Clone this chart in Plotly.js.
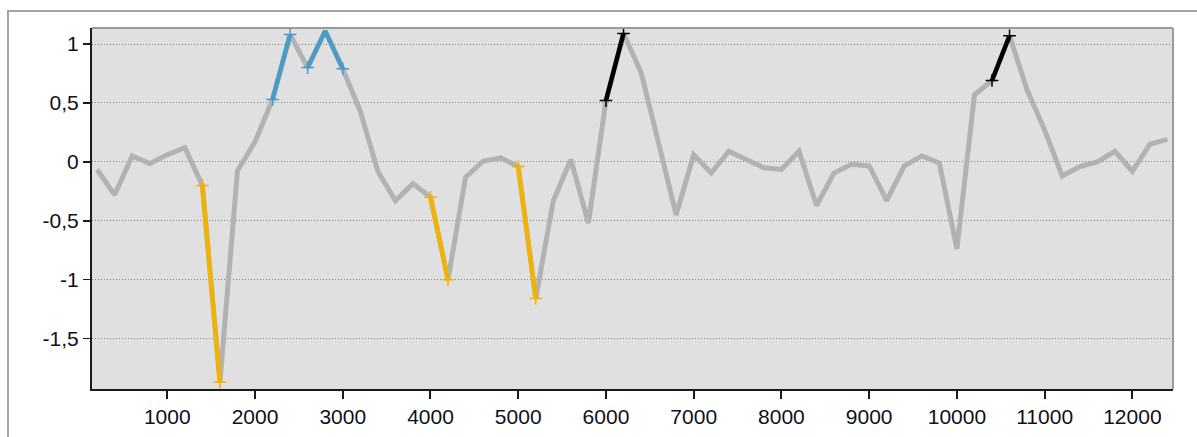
<!DOCTYPE html>
<html>
<head>
<meta charset="utf-8">
<script src="https://cdn.plot.ly/plotly-3.0.1.min.js"></script>
<style>
  html, body { margin: 0; padding: 0; background: #ffffff; }
  #frame { position: absolute; left: 7px; top: 10px; width: 1190px; height: 427px;
           border-top: 2px solid #a6a6a6; border-left: 2px solid #a6a6a6; box-sizing: border-box; z-index: 0; }
  #chart { position: absolute; left: 0; top: 0; width: 1197px; height: 437px; z-index: 1; }
</style>
</head>
<body>
<div id="frame"></div>
<div id="chart"></div>
<script>
// ---- data ----
const xValues = [200, 400, 600, 800, 1000, 1200, 1400, 1600, 1800, 2000,
  2200, 2400, 2600, 2800, 3000, 3200, 3400, 3600, 3800, 4000,
  4200, 4400, 4600, 4800, 5000, 5200, 5400, 5600, 5800, 6000,
  6200, 6400, 6600, 6800, 7000, 7200, 7400, 7600, 7800, 8000,
  8200, 8400, 8600, 8800, 9000, 9200, 9400, 9600, 9800, 10000,
  10200, 10400, 10600, 10800, 11000, 11200, 11400, 11600, 11800, 12000,
  12200, 12400];
const yValues = [-0.065, -0.28, 0.05, -0.015, 0.06, 0.12, -0.2, -1.87, -0.075, 0.17,
  0.53, 1.08, 0.80, 1.11, 0.79, 0.43, -0.08, -0.33, -0.185, -0.30,
  -1.0, -0.13, 0.005, 0.034, -0.04, -1.16, -0.33, 0.02, -0.52, 0.52,
  1.09, 0.76, 0.16, -0.45, 0.06, -0.095, 0.09, 0.025, -0.05, -0.065,
  0.09, -0.37, -0.095, -0.02, -0.035, -0.33, -0.035, 0.05, -0.01, -0.74,
  0.57, 0.69, 1.07, 0.61, 0.27, -0.12, -0.04, 0.0, 0.09, -0.08,
  0.15, 0.19];

// highlighted stretches (x from, x to)
const orangeSegments = [[1400, 1600], [4000, 4200], [5000, 5200]];
const blueSegments = [[2200, 2400], [2600, 3000]];
const blackSegments = [[6000, 6200], [10400, 10600]];

const xTickValues = [1000, 2000, 3000, 4000, 5000, 6000, 7000, 8000, 9000, 10000, 11000, 12000];
const xTickLabels = ['1000', '2000', '3000', '4000', '5000', '6000', '7000', '8000', '9000', '10000', '11000', '12000'];
const yTickValues = [1, 0.5, 0, -0.5, -1, -1.5];
const yTickLabels = ['1', '0,5', '0', '-0,5', '-1', '-1,5'];

// ---- build traces ----
function segmentTrace(seg, color) {
  const xs = [], ys = [];
  for (let i = 0; i < xValues.length; i++) {
    if (xValues[i] >= seg[0] && xValues[i] <= seg[1]) { xs.push(xValues[i]); ys.push(yValues[i]); }
  }
  return {
    x: xs, y: ys, type: 'scatter', mode: 'lines',
    line: { color: color, width: 4.5 }, hoverinfo: 'skip', showlegend: false
  };
}
function endMarkers(seg, color) {
  const xs = [], ys = [];
  seg.forEach(function (v) {
    const i = xValues.indexOf(v);
    xs.push(xValues[i]); ys.push(yValues[i]);
  });
  return {
    x: xs, y: ys, type: 'scatter', mode: 'markers',
    marker: { symbol: 'cross-thin-open', size: 9, color: color, line: { color: color, width: 1.5 } },
    hoverinfo: 'skip', showlegend: false
  };
}

const traces = [{
  x: xValues, y: yValues, type: 'scatter', mode: 'lines',
  line: { color: '#b2b2b2', width: 5 }, hoverinfo: 'skip', showlegend: false
}];
const groups = [[orangeSegments, '#f2b200'], [blueSegments, '#4a9cc6'], [blackSegments, '#000000']];
groups.forEach(function (g) {
  g[0].forEach(function (seg) { traces.push(segmentTrace(seg, g[1])); });
});
groups.forEach(function (g) {
  g[0].forEach(function (seg) { traces.push(endMarkers(seg, g[1])); });
});

const tickFont = { family: 'Liberation Sans, Arial, sans-serif', size: 21, color: '#101018' };

const layout = {
  width: 1197, height: 437,
  margin: { l: 92, r: 24, t: 28, b: 48, pad: 0 },
  paper_bgcolor: 'rgba(0,0,0,0)',
  plot_bgcolor: '#e0e0e0',
  showlegend: false,
  xaxis: {
    range: [142, 12463], tickmode: 'array', tickvals: xTickValues, ticktext: xTickLabels,
    showgrid: false, zeroline: false,
    showline: true, linecolor: '#1a1a1a', linewidth: 2,
    ticks: 'outside', ticklen: 8, tickwidth: 2, tickcolor: '#1a1a1a',
    tickfont: tickFont, fixedrange: true
  },
  yaxis: {
    range: [-1.928, 1.136], tickmode: 'array', tickvals: yTickValues, ticktext: yTickLabels,
    showgrid: true, gridcolor: '#808080', gridwidth: 1, griddash: '1px,2px',
    zeroline: false,
    showline: true, linecolor: '#1a1a1a', linewidth: 2,
    ticks: 'outside', ticklen: 7, tickwidth: 1.5, tickcolor: '#1a1a1a',
    tickfont: tickFont, fixedrange: true
  },
  shapes: [
    { type: 'line', xref: 'paper', yref: 'paper', x0: 0, x1: 1, y0: 1, y1: 1,
      line: { color: '#9a9a9a', width: 2 }, layer: 'above' },
    { type: 'line', xref: 'paper', yref: 'paper', x0: 1, x1: 1, y0: 0, y1: 1,
      line: { color: '#9a9a9a', width: 2 }, layer: 'above' }
  ]
};

Plotly.newPlot('chart', traces, layout, { staticPlot: true, displayModeBar: false });
</script>
</body>
</html>
